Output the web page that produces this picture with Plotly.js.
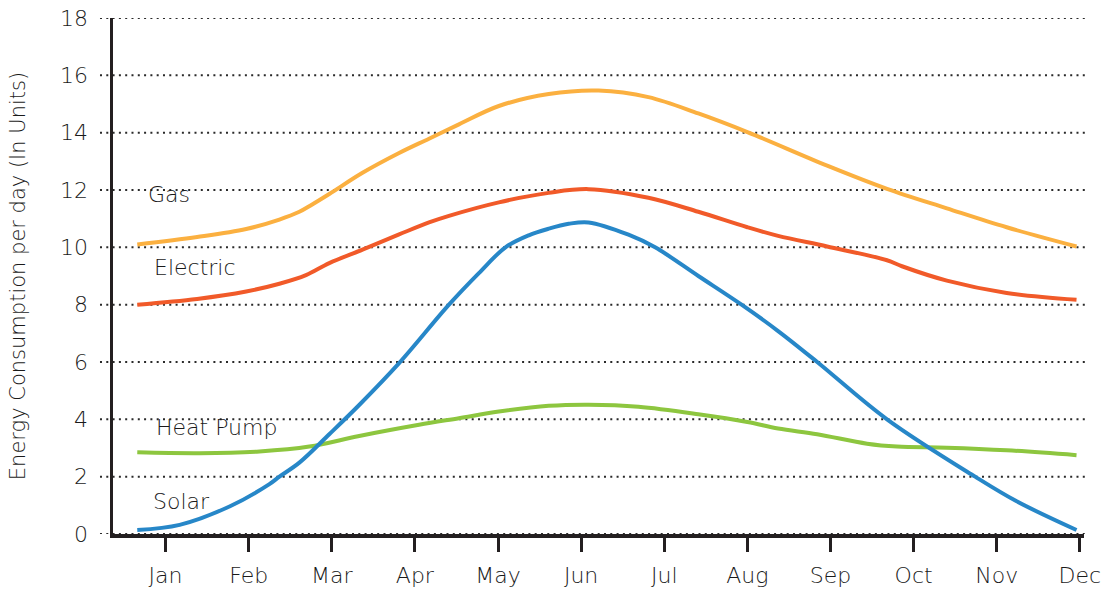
<!DOCTYPE html>
<html>
<head>
<meta charset="utf-8">
<script src="https://cdn.plot.ly/plotly-3.0.1.min.js"></script>
<style>html,body{margin:0;padding:0;background:#fff}#chart{width:1103px;height:589px}</style>
</head>
<body>
<div id="chart"></div>
<script>
// Month tick labels (x = month number, 1 = Jan)
const months = ['Jan','Feb','Mar','Apr','May','Jun','Jul','Aug','Sep','Oct','Nov','Dec'];
const yTicks = [0,2,4,6,8,10,12,14,16,18];

// Series values (x in month units)
const gasX = [0.66,1.38,1.97,2.37,2.61,2.75,2.97,3.37,3.81,4.17,4.53,5.01,5.61,6.21,6.81,7.41,8.0,8.96,9.68,10.4,11.12,11.96];
const gasY = [10.1,10.36,10.64,10.97,11.24,11.47,11.86,12.6,13.29,13.79,14.29,14.93,15.35,15.47,15.24,14.67,14.02,12.85,12.04,11.36,10.7,10.03];

const elecX = [0.66,1.38,1.97,2.37,2.69,2.97,3.37,3.81,4.17,4.41,5.01,5.61,6.09,6.81,7.41,8.0,8.37,8.96,9.68,9.86,10.4,11.12,11.96];
const elecY = [8.0,8.2,8.46,8.73,9.03,9.45,9.92,10.45,10.87,11.1,11.57,11.9,12.03,11.73,11.24,10.7,10.4,10.03,9.55,9.34,8.84,8.41,8.17];

const solarX = [0.66,1.17,1.77,2.25,2.37,2.61,2.97,3.33,3.81,4.41,4.77,5.09,5.37,5.61,5.85,6.09,6.57,6.89,7.41,7.93,8.37,8.84,9.68,10.74,11.24,11.96];
const solarY = [0.14,0.32,0.96,1.74,2.0,2.49,3.48,4.5,5.96,8.0,9.1,10.0,10.42,10.65,10.82,10.87,10.44,10.0,9.0,8.0,7.08,6.0,4.0,2.0,1.14,0.14];

const heatX = [0.66,1.41,2.13,2.73,3.33,4.05,4.53,5.01,5.61,6.09,6.69,7.41,8.0,8.37,8.84,9.44,9.8,10.4,11.12,11.96];
const heatY = [2.85,2.82,2.88,3.05,3.42,3.81,4.04,4.27,4.47,4.51,4.44,4.18,3.91,3.68,3.48,3.15,3.05,3.01,2.92,2.75];

const seriesNames = ['Gas','Electric','Heat Pump','Solar'];

const FONT = '"DejaVu Sans", "Liberation Sans", sans-serif';
const AX = '#231f20';
const TXT = '#1a1a1a';

function line(x, y, color, name) {
  return {x: x, y: y, type: 'scatter', mode: 'lines', name: name,
          line: {color: color, width: 4, shape: 'spline', smoothing: 1},
          hoverinfo: 'skip'};
}

const traces = [
  line(gasX, gasY, '#fbb040', 'Gas'),
  line(elecX, elecY, '#f15a29', 'Electric'),
  line(heatX, heatY, '#8dc63f', 'Heat Pump'),
  line(solarX, solarY, '#2787c8', 'Solar')
];

const gridShapes = yTicks.map(v => ({
  type: 'line', xref: 'paper', yref: 'y', x0: -0.0134, x1: 1.0041, y0: v, y1: v,
  line: {color: '#2a2a2a', width: 2, dash: '2px,4.3px'}, layer: 'below'
}));

// label anchor points (left edge of each series name)
const labelX = [0.77, 0.84, 0.86, 0.83];
const labelY = [11.83, 9.28, 3.7, 1.15];

const annotations = seriesNames.map((n, i) => ({
  text: n, x: labelX[i], y: labelY[i], xref: 'x', yref: 'y',
  xanchor: 'left', yanchor: 'middle', showarrow: false,
  font: {family: FONT, size: 22, color: TXT, weight: 300}
}));

const layout = {
  width: 1103, height: 589,
  margin: {l: 113, r: 19, t: 18, b: 55},
  paper_bgcolor: '#ffffff', plot_bgcolor: '#ffffff',
  showlegend: false,
  xaxis: {
    range: [0.368, 12.05],
    tickvals: months.map((m, i) => i + 1), ticktext: months,
    ticks: 'outside', ticklen: 14, tickwidth: 3, tickcolor: AX,
    showline: true, linecolor: AX, linewidth: 3.5,
    showgrid: false, zeroline: false,
    ticklabelstandoff: 5, ticklabeloverflow: 'allow',
    tickfont: {family: FONT, size: 22, color: TXT, weight: 300}
  },
  yaxis: {
    range: [0, 18],
    tickvals: yTicks,
    ticks: 'outside', ticklen: 17, tickcolor: 'rgba(0,0,0,0)',
    showline: true, linecolor: AX, linewidth: 3.5,
    showgrid: false, zeroline: false,
    tickfont: {family: FONT, size: 22, color: TXT, weight: 300},
    title: {text: 'Energy Consumption per day (In Units)', standoff: 29,
            font: {family: FONT, size: 21, color: TXT, weight: 300}}
  },
  shapes: gridShapes,
  annotations: annotations
};

Plotly.newPlot('chart', traces, layout, {staticPlot: true, displayModeBar: false});
</script>
</body>
</html>
